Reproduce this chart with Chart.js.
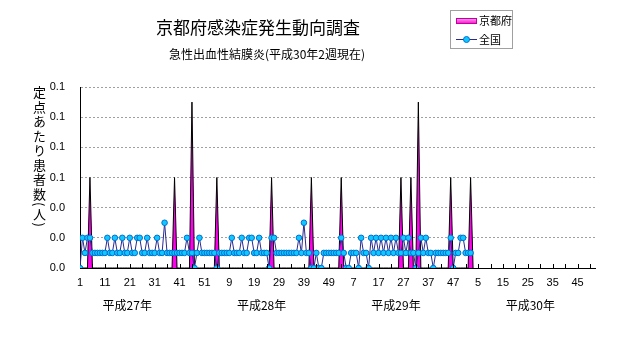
<!DOCTYPE html>
<html>
<head>
<meta charset="utf-8">
<script src="https://cdn.jsdelivr.net/npm/chart.js@4"></script>
<style>
body { margin: 0; background: #fff; }
#wrap { position: relative; width: 631px; height: 347px; font-family: "Noto Sans CJK JP", sans-serif; color: #000; }
#myChart { position: absolute; left: 0; top: 0; }
.t { position: absolute; text-align: center; white-space: nowrap; }
</style>
</head>
<body>
<div id="wrap">
  <canvas id="myChart" width="631" height="347"></canvas>
  <div class="t" style="left:0;width:516px;top:14px;font-size:17px;line-height:26px;">京都府感染症発生動向調査</div>
  <div class="t" style="left:0;width:534px;top:45px;font-size:12px;line-height:18px;">急性出血性結膜炎(平成30年2週現在)</div>
  <div style="position:absolute;left:32px;top:86px;writing-mode:vertical-rl;font-size:13px;letter-spacing:1.5px;line-height:14px;">定点あたり患者数(人)</div>
</div>
<script>
// 週ごとの定点あたり患者数 (平成27年1週 〜 平成30年2週)
const years = ['平成27年', '平成28年', '平成29年', '平成30年'];
const weeksPerYear = 52;

const kyoto = [
  0, 0, 0, 0, .06, 0, 0, 0, 0, 0,
  0, 0, 0, 0, 0, 0, 0, 0, 0, 0,
  0, 0, 0, 0, 0, 0, 0, 0, 0, 0,
  0, 0, 0, 0, 0, 0, 0, 0, .06, 0,
  0, 0, 0, 0, 0, .11, 0, 0, 0, 0,
  0, 0, 0, 0, 0, .06, 0, 0, 0, 0,
  0, 0, 0, 0, 0, 0, 0, 0, 0, 0,
  0, 0, 0, 0, 0, 0, 0, .06, 0, 0,
  0, 0, 0, 0, 0, 0, 0, 0, 0, 0,
  0, 0, 0, .06, 0, 0, 0, 0, 0, 0,
  0, 0, 0, 0, 0, .06, 0, 0, 0, 0,
  0, 0, 0, 0, 0, 0, 0, 0, 0, 0,
  0, 0, 0, 0, 0, 0, 0, 0, 0, .06,
  0, 0, 0, .06, 0, 0, .11, 0, 0, 0,
  0, 0, 0, 0, 0, 0, 0, 0, 0, .06,
  0, 0, 0, 0, 0, 0, 0, .06, 0
];

const zenkoku = [
  0, .02, .01, .02, .02, .01, .01, .01, .01, .01,
  .01, .02, .01, .01, .02, .01, .01, .02, .01, .01,
  .02, .01, .01, .02, .02, .01, .01, .02, .01, .01,
  .01, .02, .01, .01, .03, .01, .01, .01, .01, .01,
  .01, .01, .01, .02, .01, .01, 0, .01, .02, .01,
  .01, .01, .01, .01, .01, 0, .01, .01, .01, .01,
  .01, .02, .01, .01, .01, .02, .01, .01, .02, .02,
  .01, .01, .02, .01, .01, .01, 0, .02, .02, .01,
  .01, .01, .01, .01, .01, .01, .01, .01, .02, .01,
  .03, .01, .01, 0, 0, .01, 0, 0, .01, .01,
  .01, .01, .01, .01, .01, .02, .01, 0, 0, .01,
  .01, .01, 0, .02, .01, .01, 0, .02, .01, .02,
  .01, .02, .01, .02, .01, .02, .01, .02, .01, .01,
  .02, .01, .02, .01, .01, 0, .01, .02, .01, .02,
  .01, .01, 0, .01, .01, .01, .01, .01, .01, .02,
  0, .01, .01, .02, .02, .01, .01, .01
];

const lastIndex = years.length * weeksPerYear - 1;

// 目盛り線(内向き)・年ラベル・凡例
const extras = {
  id: 'extras',
  afterDraw(chart) {
    const ctx = chart.ctx;
    const xs = chart.scales.x;
    const bottom = chart.chartArea.bottom;
    ctx.save();
    ctx.strokeStyle = '#000';
    ctx.lineWidth = 1;
    ctx.beginPath();
    for (let v = 5; v <= lastIndex; v += 5) {
      const px = Math.round(xs.getPixelForValue(v)) + 0.5;
      ctx.moveTo(px, bottom - 4);
      ctx.lineTo(px, bottom);
    }
    ctx.stroke();

    ctx.fillStyle = '#000';
    ctx.font = '12px "Noto Sans CJK JP"';
    ctx.textAlign = 'center';
    ctx.textBaseline = 'middle';
    const yearPos = [19, 73, 127, 181];
    years.forEach((y, i) => {
      ctx.fillText(y, xs.getPixelForValue(yearPos[i]), 305);
    });

    // 凡例
    ctx.strokeStyle = '#a0a0a0';
    ctx.strokeRect(450.5, 10.5, 62, 38);
    const ds = chart.data.datasets;
    const g = ctx.createLinearGradient(0, 18, 0, 24);
    g.addColorStop(0, '#ffb0f0');
    g.addColorStop(1, '#ff00cc');
    ctx.fillStyle = g;
    ctx.fillRect(456, 18, 21, 6);
    ctx.strokeStyle = '#c000a0';
    ctx.strokeRect(456.5, 18.5, 20, 5);
    ctx.strokeStyle = ds[1].borderColor;
    ctx.beginPath();
    ctx.moveTo(456, 39.5);
    ctx.lineTo(477, 39.5);
    ctx.stroke();
    ctx.beginPath();
    ctx.arc(466.5, 39.5, 3, 0, Math.PI * 2);
    ctx.fillStyle = ds[1].pointBackgroundColor;
    ctx.fill();
    ctx.strokeStyle = ds[1].pointBorderColor;
    ctx.stroke();
    ctx.fillStyle = '#000';
    ctx.font = '11px "Noto Sans CJK JP"';
    ctx.textAlign = 'left';
    ctx.fillText(ds[0].label, 479, 21);
    ctx.fillText(ds[1].label, 479, 40);
    ctx.restore();
  }
};

const ctx1 = document.getElementById('myChart').getContext('2d');
const graph = new Chart(ctx1, {
  type: 'line',
  data: {
    datasets: [{
      label: '京都府',
      data: kyoto.map((v, i) => ({x: i, y: v})),
      borderColor: '#000',
      borderWidth: 1,
      backgroundColor: '#ff00ee',
      fill: 'origin',
      pointRadius: 0,
      tension: 0,
      order: 1
    }, {
      label: '全国',
      data: zenkoku.map((v, i) => ({x: i, y: v})),
      borderColor: '#2a2a90',
      borderWidth: 1,
      pointRadius: 2.8,
      pointBorderWidth: 1,
      pointBackgroundColor: '#10c8ff',
      pointBorderColor: '#0070d0',
      fill: false,
      tension: 0,
      order: 0
    }]
  },
  options: {
    responsive: false,
    animation: false,
    devicePixelRatio: 1,
    layout: { padding: { top: 87, right: 36, left: 0, bottom: 0 } },
    plugins: {
      legend: { display: false },
      tooltip: { enabled: false }
    },
    scales: {
      x: {
        type: 'linear',
        min: 0,
        max: lastIndex,
        afterFit: (s) => { s.height = 79; },
        grid: { drawOnChartArea: false, drawTicks: false },
        border: { color: '#000', width: 1 },
        ticks: {
          stepSize: 10,
          includeBounds: false,
          autoSkip: false,
          maxRotation: 0,
          padding: 8,
          color: '#000',
          font: { family: 'Liberation Sans', size: 11 },
          callback: (v) => (Math.round(v) % weeksPerYear) + 1
        }
      },
      y: {
        min: 0,
        max: 0.12,
        afterFit: (s) => { s.width = 80; },
        grid: { color: '#a0a0a0', drawTicks: false },
        border: { color: '#000', width: 1, dash: [2, 2] },
        ticks: {
          stepSize: 0.02,
          padding: 15,
          color: '#000',
          font: { family: 'Liberation Sans', size: 11 },
          callback: (v) => v.toFixed(1)
        }
      }
    }
  },
  plugins: [extras]
});
</script>
</body>
</html>
